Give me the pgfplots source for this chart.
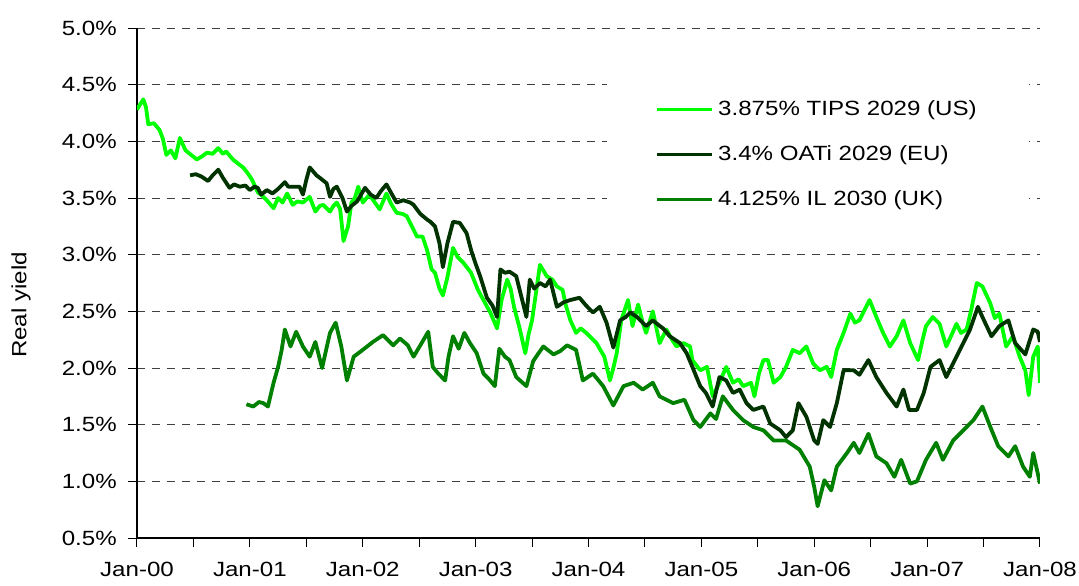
\documentclass[border=0pt]{standalone}
\usepackage{fontspec}
\setmainfont{Liberation Sans}[FakeStretch=1.17]
\usepackage{pgfplots}
\pgfplotsset{compat=1.18}
\definecolor{tips}{RGB}{0,255,0}
\definecolor{oati}{RGB}{0,51,0}
\definecolor{ilgreen}{RGB}{0,128,0}
\begin{document}
\fontsize{10.3}{12}\selectfont
\begin{tikzpicture}
\useasboundingbox (-68.5pt,-23.5pt) rectangle (471pt,269pt);
\begin{axis}[
  scale only axis, width=451.5pt, height=255pt,
  xmin=0, xmax=8, ymin=0.5, ymax=5,
  axis x line*=bottom, axis y line*=left,
  axis line style={line width=0.75pt, black},
  tick align=outside,
  major tick length=4.5pt, minor tick length=4.5pt,
  tick style={black, line width=0.5pt},
  xtick={0,1,2,3,4,5,6,7,8},
  minor xtick={0.5,1.5,2.5,3.5,4.5,5.5,6.5,7.5},
  xticklabels={Jan-00,Jan-01,Jan-02,Jan-03,Jan-04,Jan-05,Jan-06,Jan-07,Jan-08},
  ytick={0.5,1,1.5,2,2.5,3,3.5,4,4.5,5},
  yticklabel={\pgfmathprintnumber[fixed,fixed zerofill,precision=1]{\tick}\%},
  /pgf/number format/assume math mode=true,
  ticklabel style={font=\fontsize{10.3}{12}\selectfont},
  xticklabel style={yshift=-4pt},
  yticklabel style={xshift=-2pt},
  ymajorgrids,
  major grid style={black!75, line width=0.5pt, dash pattern=on 4pt off 3.5pt},
  ylabel={Real yield},
  ylabel style={at={(axis description cs:-0.1285,0.457)}, anchor=center, font=\fontsize{10.3}{12}\selectfont},
  legend cell align=left,
  legend image code/.code={\draw[#1] (0pt,0pt) -- (27.5pt,0pt);},
  legend style={draw=none, fill=white, at={(0.5205,0.752)}, anchor=west,
    font=\fontsize{10.3}{12}\selectfont, row sep=9.5pt,
    inner xsep=24pt, inner ysep=11pt,
    nodes={inner sep=2pt}},
  every axis plot/.append style={line width=1.9pt, line join=round, mark=none},
]
\addplot[color=tips] coordinates {
(0.00,4.28) (0.03,4.33) (0.056,4.37) (0.08,4.30) (0.10,4.15) (0.15,4.16) (0.20,4.10) (0.23,4.02)
(0.26,3.88) (0.30,3.92) (0.34,3.85) (0.38,4.03) (0.43,3.92) (0.48,3.88) (0.53,3.84) (0.58,3.87)
(0.62,3.90) (0.67,3.89) (0.72,3.94) (0.76,3.89) (0.79,3.91) (0.85,3.84) (0.90,3.80) (0.94,3.77)
(0.98,3.72) (1.02,3.66) (1.07,3.55) (1.11,3.52) (1.15,3.48) (1.21,3.41) (1.25,3.50) (1.29,3.46)
(1.33,3.54) (1.38,3.44) (1.42,3.47) (1.47,3.46) (1.53,3.51) (1.58,3.38) (1.62,3.43) (1.65,3.44)
(1.71,3.38) (1.74,3.43) (1.77,3.46) (1.80,3.40) (1.83,3.12) (1.87,3.25) (1.90,3.46) (1.93,3.50)
(1.96,3.60) (2.00,3.46) (2.06,3.53) (2.10,3.47) (2.15,3.40) (2.21,3.54) (2.25,3.45) (2.30,3.37)
(2.35,3.36) (2.39,3.34) (2.45,3.22) (2.48,3.16) (2.53,3.16) (2.57,3.04) (2.61,2.87) (2.64,2.84)
(2.68,2.70) (2.71,2.64) (2.75,2.80) (2.80,3.06) (2.84,2.98) (2.89,2.93) (2.96,2.84) (3.02,2.69)
(3.08,2.58) (3.13,2.49) (3.19,2.35) (3.23,2.60) (3.28,2.78) (3.31,2.70) (3.34,2.54) (3.39,2.35)
(3.44,2.13) (3.47,2.30) (3.50,2.42) (3.54,2.70) (3.57,2.91) (3.63,2.81) (3.68,2.78) (3.72,2.72)
(3.77,2.69) (3.80,2.55) (3.84,2.42) (3.89,2.31) (3.93,2.35) (3.98,2.31) (4.03,2.26) (4.07,2.22)
(4.14,2.10) (4.19,1.89) (4.22,2.00) (4.25,2.13) (4.29,2.42) (4.35,2.60) (4.39,2.37) (4.44,2.56)
(4.48,2.40) (4.51,2.31) (4.57,2.50) (4.63,2.22) (4.69,2.34) (4.74,2.25) (4.78,2.19) (4.84,2.22)
(4.90,2.19) (4.92,2.07) (4.99,1.98) (5.05,2.01) (5.10,1.75) (5.16,1.87) (5.22,2.01) (5.28,1.87)
(5.33,1.90) (5.37,1.84) (5.44,1.87) (5.47,1.75) (5.51,1.95) (5.55,2.07) (5.59,2.07) (5.64,1.87)
(5.70,1.92) (5.75,2.01) (5.81,2.16) (5.87,2.13) (5.93,2.19) (5.99,2.04) (6.05,1.98) (6.11,2.01)
(6.15,1.92) (6.20,2.16) (6.26,2.31) (6.32,2.48) (6.36,2.40) (6.40,2.42) (6.46,2.54) (6.49,2.60)
(6.55,2.45) (6.61,2.31) (6.67,2.19) (6.73,2.28) (6.79,2.42) (6.85,2.22) (6.92,2.07) (6.96,2.25)
(6.99,2.37) (7.05,2.45) (7.11,2.39) (7.17,2.19) (7.22,2.30) (7.26,2.39) (7.30,2.31) (7.35,2.34)
(7.39,2.51) (7.44,2.75) (7.49,2.72) (7.56,2.57) (7.60,2.44) (7.64,2.48) (7.70,2.19) (7.76,2.28)
(7.82,2.10) (7.87,1.98) (7.90,1.76) (7.94,2.10) (7.98,2.19) (8.00,1.87)
};
\addlegendentry{3.875\% TIPS 2029 (US)}
\addplot[color=oati] coordinates {
(0.47,3.70) (0.52,3.71) (0.57,3.69) (0.63,3.65) (0.67,3.70) (0.72,3.75) (0.76,3.68) (0.82,3.59)
(0.86,3.62) (0.91,3.60) (0.96,3.61) (1.00,3.57) (1.04,3.60) (1.07,3.59) (1.10,3.53) (1.15,3.57)
(1.20,3.54) (1.25,3.58) (1.31,3.64) (1.34,3.60) (1.38,3.60) (1.44,3.60) (1.47,3.53) (1.50,3.66)
(1.53,3.77) (1.59,3.70) (1.63,3.67) (1.68,3.63) (1.71,3.51) (1.74,3.58) (1.77,3.60) (1.82,3.50)
(1.86,3.38) (1.90,3.43) (1.95,3.47) (2.02,3.59) (2.07,3.53) (2.12,3.50) (2.16,3.56) (2.21,3.62)
(2.26,3.53) (2.30,3.46) (2.36,3.48) (2.42,3.46) (2.45,3.44) (2.51,3.36) (2.57,3.31) (2.60,3.29)
(2.64,3.25) (2.68,3.10) (2.71,2.89) (2.75,3.10) (2.80,3.29) (2.86,3.28) (2.92,3.19) (2.96,3.04)
(3.00,2.92) (3.04,2.81) (3.10,2.62) (3.15,2.55) (3.19,2.45) (3.22,2.87) (3.26,2.84) (3.30,2.85)
(3.36,2.81) (3.40,2.65) (3.45,2.45) (3.48,2.78) (3.52,2.70) (3.57,2.75) (3.62,2.72) (3.66,2.78)
(3.72,2.54) (3.78,2.58) (3.84,2.60) (3.92,2.62) (3.98,2.55) (4.04,2.49) (4.10,2.54) (4.16,2.40)
(4.22,2.18) (4.25,2.30) (4.28,2.42) (4.33,2.45) (4.37,2.49) (4.43,2.45) (4.51,2.37) (4.57,2.42)
(4.62,2.38) (4.66,2.35) (4.72,2.28) (4.81,2.22) (4.87,2.13) (4.92,2.01) (4.99,1.84) (5.04,1.78)
(5.10,1.66) (5.16,1.92) (5.22,1.89) (5.28,1.78) (5.34,1.81) (5.40,1.69) (5.46,1.63) (5.55,1.66)
(5.61,1.51) (5.70,1.45) (5.75,1.39) (5.81,1.45) (5.86,1.69) (5.93,1.57) (6.00,1.36) (6.03,1.33)
(6.08,1.54) (6.14,1.48) (6.20,1.69) (6.26,1.98) (6.35,1.98) (6.40,1.94) (6.48,2.07) (6.55,1.92)
(6.64,1.78) (6.73,1.66) (6.79,1.81) (6.84,1.63) (6.91,1.63) (6.97,1.78) (7.03,2.01) (7.11,2.07)
(7.17,1.92) (7.26,2.10) (7.32,2.22) (7.38,2.34) (7.45,2.54) (7.49,2.45) (7.57,2.28) (7.64,2.37)
(7.72,2.42) (7.78,2.22) (7.87,2.12) (7.94,2.34) (7.98,2.32) (8.00,2.23)
};
\addlegendentry{3.4\% OATi 2029 (EU)}
\addplot[color=ilgreen] coordinates {
(0.97,1.68) (1.03,1.66) (1.08,1.70) (1.12,1.69) (1.16,1.66) (1.21,1.87) (1.25,2.01) (1.28,2.15)
(1.31,2.34) (1.36,2.19) (1.41,2.32) (1.47,2.19) (1.53,2.10) (1.58,2.23) (1.64,2.00) (1.68,2.18)
(1.71,2.31) (1.76,2.40) (1.81,2.19) (1.86,1.89) (1.92,2.10) (2.00,2.16) (2.09,2.23) (2.18,2.29)
(2.27,2.20) (2.33,2.26) (2.40,2.20) (2.45,2.10) (2.51,2.20) (2.58,2.32) (2.62,2.01) (2.67,1.95)
(2.73,1.89) (2.76,2.10) (2.80,2.28) (2.85,2.17) (2.90,2.31) (2.95,2.22) (3.01,2.13) (3.07,1.95)
(3.12,1.90) (3.17,1.84) (3.21,2.17) (3.26,2.10) (3.30,2.07) (3.36,1.92) (3.45,1.84) (3.51,2.06)
(3.55,2.12) (3.60,2.19) (3.69,2.12) (3.75,2.15) (3.81,2.20) (3.89,2.16) (3.95,1.89) (4.04,1.95)
(4.13,1.84) (4.22,1.67) (4.31,1.84) (4.40,1.87) (4.48,1.81) (4.57,1.87) (4.63,1.75) (4.75,1.69)
(4.85,1.72) (4.93,1.54) (4.99,1.48) (5.08,1.60) (5.13,1.55) (5.19,1.75) (5.28,1.63) (5.37,1.54)
(5.46,1.48) (5.55,1.45) (5.64,1.36) (5.75,1.36) (5.87,1.28) (5.96,1.13) (6.00,0.95) (6.03,0.78)
(6.09,1.01) (6.15,0.92) (6.20,1.13) (6.29,1.25) (6.35,1.34) (6.40,1.25) (6.48,1.42) (6.55,1.22)
(6.64,1.16) (6.71,1.04) (6.77,1.19) (6.85,0.98) (6.91,1.00) (6.99,1.19) (7.08,1.34) (7.14,1.19)
(7.23,1.36) (7.32,1.45) (7.41,1.54) (7.49,1.66) (7.56,1.48) (7.63,1.31) (7.72,1.22) (7.78,1.31)
(7.85,1.13) (7.91,1.04) (7.94,1.25) (8.00,0.98)
};
\addlegendentry{4.125\% IL 2030 (UK)}
\end{axis}
\end{tikzpicture}
\end{document}
